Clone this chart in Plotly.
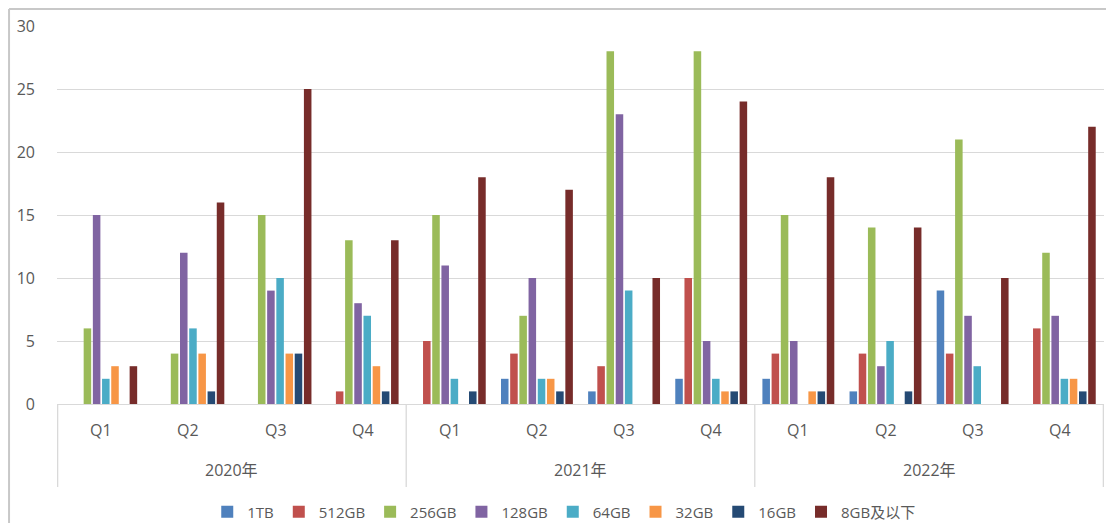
import plotly.graph_objects as go

year_labels = ["2020年", "2021年", "2022年"]
quarter_labels = ["Q1", "Q2", "Q3", "Q4"]
categories = [y + q for y in year_labels for q in quarter_labels]

series_names = ["1TB", "512GB", "256GB", "128GB", "64GB", "32GB", "16GB", "8GB及以下"]
v_1tb = [0, 0, 0, 0, 0, 2, 1, 2, 2, 1, 9, 0]
v_512 = [0, 0, 0, 1, 5, 4, 3, 10, 4, 4, 4, 6]
v_256 = [6, 4, 15, 13, 15, 7, 28, 28, 15, 14, 21, 12]
v_128 = [15, 12, 9, 8, 11, 10, 23, 5, 5, 3, 7, 7]
v_64 = [2, 6, 10, 7, 2, 2, 9, 2, 0, 5, 3, 2]
v_32 = [3, 4, 4, 3, 0, 2, 0, 1, 1, 0, 0, 2]
v_16 = [0, 1, 4, 1, 1, 1, 0, 1, 1, 1, 0, 1]
v_8 = [3, 16, 25, 13, 18, 17, 10, 24, 18, 14, 10, 22]
all_values = [v_1tb, v_512, v_256, v_128, v_64, v_32, v_16, v_8]

colors = ["#4F81BD", "#C0504D", "#9BBB59", "#8064A2", "#4BACC6", "#F79646", "#254A74", "#772C2A"]

font_family = "Open Sans, Noto Sans CJK SC, sans-serif"
text_color = "#595959"
line_color = "#D9D9D9"

fig = go.Figure()
for name, vals, c in zip(series_names, all_values, colors):
    fig.add_trace(go.Bar(
        x=categories, y=vals, name=name,
        marker=dict(color=c, line=dict(width=0)),
    ))

n_per_year = len(quarter_labels)
annotations = []
for i, cat in enumerate(categories):
    annotations.append(dict(
        x=i, y=-0.0688, xref="x", yref="paper", text=quarter_labels[i % n_per_year],
        showarrow=False, xanchor="center", yanchor="middle",
        font=dict(family=font_family, size=16, color=text_color),
    ))
for j, yl in enumerate(year_labels):
    annotations.append(dict(
        x=j * n_per_year + (n_per_year - 1) / 2, y=-0.1746, xref="x", yref="paper", text=yl,
        showarrow=False, xanchor="center", yanchor="middle",
        font=dict(family=font_family, size=16, color=text_color),
    ))

shapes = []
for j in range(len(year_labels) + 1):
    xd = j * n_per_year - 0.5
    shapes.append(dict(type="line", xref="x", yref="paper", x0=xd, x1=xd, y0=0, y1=-0.2196,
                       line=dict(color=line_color, width=1.3)))
# outer chart frame (left and top edges visible in the reference)
frame_style = dict(color="#C8C8C8", width=2)
shapes.append(dict(type="line", xref="paper", yref="paper",
                   x0=-0.0458, x1=-0.0458, y0=-0.4, y1=1.045, line=frame_style, layer="below"))
shapes.append(dict(type="line", xref="paper", yref="paper",
                   x0=-0.0458, x1=1.2, y0=1.045, y1=1.045, line=frame_style, layer="below"))

fig.update_layout(
    width=1098, height=515,
    paper_bgcolor="white", plot_bgcolor="white",
    margin=dict(l=49, r=2, t=18, b=119, autoexpand=False),
    barmode="group", bargap=0.156, bargroupgap=0.18,
    font=dict(family=font_family, size=15, color=text_color),
    showlegend=True,
    legend=dict(orientation="h", x=0.484, xanchor="center", y=-0.2857, yanchor="middle",
                font=dict(family=font_family, size=15, color=text_color),
                itemwidth=30, traceorder="normal", tracegroupgap=0),
    xaxis=dict(
        type="category", automargin=False,
        showgrid=False, showticklabels=False, ticks="",
        showline=True, linecolor=line_color, linewidth=1.3,
    ),
    yaxis=dict(
        range=[0, 30], dtick=5, automargin=False,
        showgrid=True, gridcolor=line_color, gridwidth=1.3,
        zeroline=False, showline=False,
        tickfont=dict(family=font_family, size=16, color=text_color),
        ticks="", ticklabelstandoff=21,
    ),
    annotations=annotations,
    shapes=shapes,
)

fig.write_html("out.html")
